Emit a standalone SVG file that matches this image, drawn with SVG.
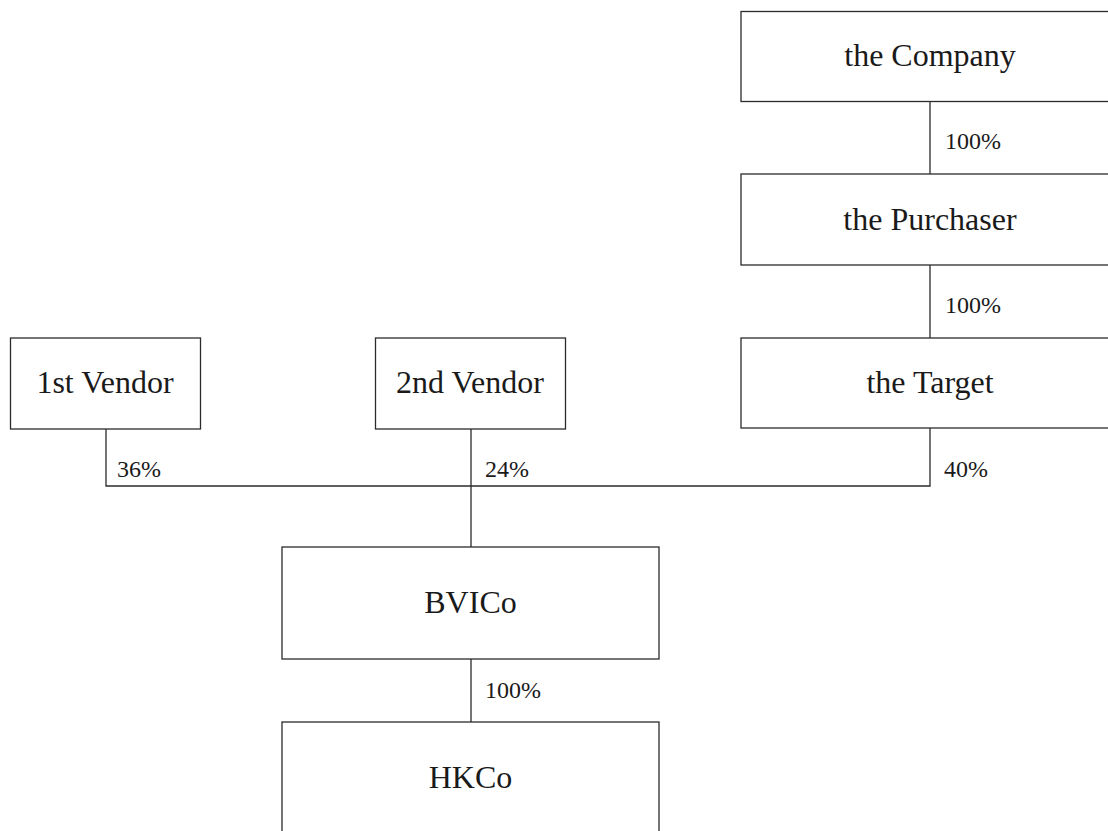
<svg xmlns="http://www.w3.org/2000/svg" width="1108" height="831" viewBox="0 0 1108 831">
<style>
.box{fill:#fff;stroke:#2b2b2b;stroke-width:1.3}
.lbl{font-family:"Liberation Serif","Times New Roman",serif;font-size:32px;fill:#1a1a1a;text-anchor:middle}
.pct{font-family:"Liberation Serif","Times New Roman",serif;font-size:24px;fill:#1a1a1a}
.con{fill:none;stroke:#2b2b2b;stroke-width:1.3}
</style>
<rect width="1108" height="831" fill="#fff"/>
<g id="connectors">
<line class="con" x1="930" y1="101.5" x2="930" y2="174"/>
<line class="con" x1="930" y1="265" x2="930" y2="338"/>
<polyline class="con" points="106,429 106,486 930,486 930,428"/>
<line class="con" x1="471" y1="429" x2="471" y2="547"/>
<line class="con" x1="471" y1="659" x2="471" y2="722"/>
<text class="pct" x="945" y="149">100%</text>
<text class="pct" x="945" y="313">100%</text>
<text class="pct" x="944" y="477">40%</text>
<text class="pct" x="117" y="477">36%</text>
<text class="pct" x="485" y="477">24%</text>
<text class="pct" x="485" y="698">100%</text>
</g>
<g id="company"><rect class="box" x="741" y="11.5" width="378" height="90"/><text class="lbl" x="930" y="66">the Company</text></g>
<g id="purchaser"><rect class="box" x="741" y="174" width="378" height="91"/><text class="lbl" x="930" y="230">the Purchaser</text></g>
<g id="target"><rect class="box" x="741" y="338" width="378" height="90"/><text class="lbl" x="930" y="393">the Target</text></g>
<g id="vendor1"><rect class="box" x="10.5" y="338" width="190" height="91"/><text class="lbl" x="105" y="393">1st Vendor</text></g>
<g id="vendor2"><rect class="box" x="375.5" y="338" width="190" height="91"/><text class="lbl" x="470" y="393">2nd Vendor</text></g>
<g id="bvico"><rect class="box" x="282" y="547" width="377" height="112"/><text class="lbl" x="470.5" y="613">BVICo</text></g>
<g id="hkco"><rect class="box" x="282" y="722" width="377" height="140"/><text class="lbl" x="470.5" y="788">HKCo</text></g>
</svg>
